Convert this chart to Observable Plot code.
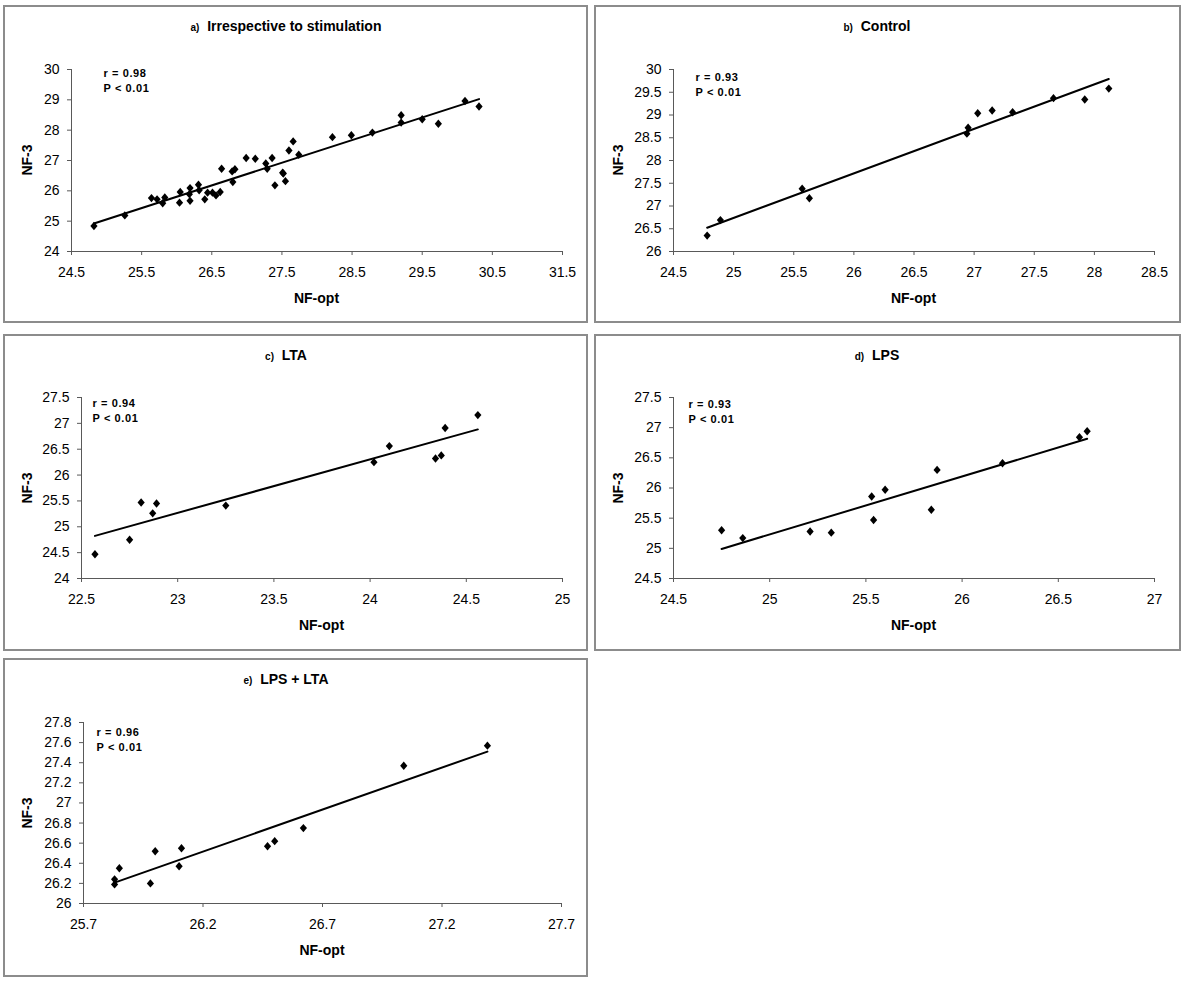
<!DOCTYPE html>
<html>
<head>
<meta charset="utf-8">
<script src="https://cdn.jsdelivr.net/npm/d3@7"></script>
<script src="https://cdn.jsdelivr.net/npm/@observablehq/plot@0.6"></script>
<style>
  html, body { margin: 0; padding: 0; background: #fff; }
  body { font-family: "Liberation Sans", Arial, sans-serif; color: #000; }
  #root { position: relative; width: 1200px; height: 1000px; }
  .box { position: absolute; box-sizing: border-box; border: 2px solid #8c8c8c; background: #fff; }
  .panel { position: absolute; }
  .panel svg { position: absolute; left: 0; top: 0; overflow: visible; }
  .title { position: absolute; transform: translate(-50%, -50%); white-space: nowrap; font-weight: bold; font-size: 14px; }
  .title .tag { font-size: 10px; }
  .xlab { position: absolute; transform: translate(-50%, -50%); font-weight: bold; font-size: 14px; white-space: nowrap; }
  .ylab { position: absolute; transform: translate(-50%, -50%) rotate(-90deg); font-weight: bold; font-size: 14px; white-space: nowrap; }
</style>
</head>
<body>
<div id="root"></div>
<script>
// ---------- data ----------
const panelTags = ["a)", "b)", "c)", "d)", "e)"];
const panelTitles = ["Irrespective to stimulation", "Control", "LTA", "LPS", "LPS + LTA"];
const statR = ["r = 0.98", "r = 0.93", "r = 0.94", "r = 0.93", "r = 0.96"];
const statP = "P < 0.01";
const xLabel = "NF-opt";
const yLabel = "NF-3";

const aX = [24.82,25.26,25.64,25.72,25.80,25.83,26.04,26.05,26.19,26.19,26.18,26.31,26.32,26.40,26.44,26.51,26.56,26.62,26.64,26.79,26.80,26.83,26.99,27.12,27.27,27.29,27.36,27.40,27.51,27.52,27.55,27.60,27.66,27.74,28.22,28.49,28.79,29.20,29.20,29.50,29.73,30.11,30.31];
const aY = [24.84,25.19,25.76,25.72,25.59,25.78,25.61,25.96,26.09,25.67,25.89,26.20,26.02,25.72,25.94,25.94,25.85,25.96,26.73,26.64,26.29,26.71,27.08,27.06,26.90,26.73,27.08,26.18,26.60,26.57,26.32,27.33,27.63,27.19,27.77,27.83,27.92,28.49,28.25,28.36,28.21,28.96,28.78];
const bX = [24.78,24.89,25.57,25.63,26.94,26.95,27.03,27.15,27.32,27.66,27.92,28.12];
const bY = [26.35,26.69,27.38,27.17,28.59,28.72,29.04,29.10,29.06,29.37,29.34,29.58];
const cX = [22.57,22.75,22.81,22.87,22.89,23.25,24.02,24.10,24.34,24.37,24.39,24.56];
const cY = [24.47,24.75,25.47,25.26,25.45,25.41,26.25,26.56,26.32,26.38,26.91,27.16];
const dX = [24.75,24.86,25.21,25.32,25.53,25.54,25.60,25.84,25.87,26.21,26.61,26.65];
const dY = [25.30,25.17,25.28,25.26,25.86,25.47,25.97,25.64,26.30,26.41,26.84,26.94];
const eX = [25.83,25.83,25.85,25.98,26.00,26.10,26.11,26.47,26.50,26.62,27.04,27.39];
const eY = [26.24,26.19,26.35,26.20,26.52,26.37,26.55,26.57,26.62,26.75,27.37,27.57];

const aXTicks = [24.5,25.5,26.5,27.5,28.5,29.5,30.5,31.5];
const aYTicks = [24,25,26,27,28,29,30];
const bXTicks = [24.5,25,25.5,26,26.5,27,27.5,28,28.5];
const bYTicks = [26,26.5,27,27.5,28,28.5,29,29.5,30];
const cXTicks = [22.5,23,23.5,24,24.5,25];
const cYTicks = [24,24.5,25,25.5,26,26.5,27,27.5];
const dXTicks = [24.5,25,25.5,26,26.5,27];
const dYTicks = [24.5,25,25.5,26,26.5,27,27.5];
const eXTicks = [25.7,26.2,26.7,27.2,27.7];
const eYTicks = [26,26.2,26.4,26.6,26.8,27,27.2,27.4,27.6,27.8];

// ---------- layout ----------
const layout = [
  {xs: aX, ys: aY, xt: aXTicks, yt: aYTicks, left: 3,   top: 5,   width: 585, height: 318, ml: 68, mr: 26, mt: 64, mb: 72, rdx: 32, rdy: 4},
  {xs: bX, ys: bY, xt: bXTicks, yt: bYTicks, left: 594, top: 5,   width: 587, height: 318, ml: 79, mr: 27, mt: 64, mb: 72, rdx: 22, rdy: 8},
  {xs: cX, ys: cY, xt: cXTicks, yt: cYTicks, left: 3,   top: 334, width: 585, height: 317, ml: 78, mr: 26, mt: 63, mb: 73, rdx: 11, rdy: 6},
  {xs: dX, ys: dY, xt: dXTicks, yt: dYTicks, left: 594, top: 334, width: 587, height: 317, ml: 79, mr: 27, mt: 63, mb: 73, rdx: 15, rdy: 7},
  {xs: eX, ys: eY, xt: eXTicks, yt: eYTicks, left: 3,   top: 658, width: 585, height: 319, ml: 80, mr: 27, mt: 64, mb: 74, rdx: 13, rdy: 10}
];

const diamond = {
  draw(ctx) {
    const w = 3.6, h = 4.2;
    ctx.moveTo(0, -h); ctx.lineTo(w, 0); ctx.lineTo(0, h); ctx.lineTo(-w, 0); ctx.closePath();
  }
};

const axisColor = "#595959";
const root = document.getElementById("root");

layout.forEach((L, i) => {
  const rows = L.xs.map((x, k) => ({x, y: L.ys[k]}));

  const box = document.createElement("div");
  box.className = "box";
  Object.assign(box.style, {left: L.left + "px", top: L.top + "px", width: L.width + "px", height: L.height + "px"});
  root.appendChild(box);

  const panel = document.createElement("div");
  panel.className = "panel";
  Object.assign(panel.style, {left: L.left + "px", top: L.top + "px", width: L.width + "px", height: L.height + "px"});

  const chart = Plot.plot({
    width: L.width,
    height: L.height,
    marginLeft: L.ml, marginRight: L.mr, marginTop: L.mt, marginBottom: L.mb,
    style: {fontFamily: '"Liberation Sans", Arial, sans-serif', fontSize: "14px", background: "transparent", color: "#000"},
    x: {domain: [L.xt[0], L.xt[L.xt.length - 1]], ticks: L.xt},
    y: {domain: [L.yt[0], L.yt[L.yt.length - 1]], ticks: L.yt},
    marks: [
      Plot.axisX({ticks: L.xt, tickSize: 4, tickPadding: 12, tickFormat: d => String(d), stroke: axisColor, fill: "#000", fontSize: 14, label: null}),
      Plot.axisY({ticks: L.yt, tickSize: 4, tickPadding: 8, tickFormat: d => String(d), stroke: axisColor, fill: "#000", fontSize: 14, label: null}),
      Plot.ruleY([L.yt[0]], {stroke: axisColor, strokeWidth: 1}),
      Plot.ruleX([L.xt[0]], {stroke: axisColor, strokeWidth: 1}),
      Plot.linearRegressionY(rows, {x: "x", y: "y", ci: 0, stroke: "#000", strokeWidth: 2}),
      Plot.dot(rows, {x: "x", y: "y", symbol: diamond, fill: "#000", stroke: "none"}),
      Plot.text([statR[i]], {frameAnchor: "top-left", dx: L.rdx, dy: L.rdy, text: d => d, textAnchor: "start", lineAnchor: "middle", fontWeight: "bold", fontSize: 11, fill: "#000"}),
      Plot.text([statP], {frameAnchor: "top-left", dx: L.rdx, dy: L.rdy + 15, text: d => d, textAnchor: "start", lineAnchor: "middle", fontWeight: "bold", fontSize: 11, fill: "#000"})
    ]
  });
  chart.querySelectorAll('g[font-weight="bold"] text').forEach(t => { t.style.letterSpacing = "0.6px"; });
  panel.appendChild(chart);

  const title = document.createElement("div");
  title.className = "title";
  title.innerHTML = `<span class="tag">${panelTags[i]}</span>&nbsp;&nbsp;${panelTitles[i]}`;
  Object.assign(title.style, {left: "283px", top: "21px"});
  panel.appendChild(title);

  const plotCx = L.ml + (L.width - L.ml - L.mr) / 2;
  const plotCy = L.mt + (L.height - L.mt - L.mb) / 2;

  const xl = document.createElement("div");
  xl.className = "xlab";
  xl.textContent = xLabel;
  Object.assign(xl.style, {left: plotCx + "px", top: (L.height - L.mb + 47) + "px"});
  panel.appendChild(xl);

  const yl = document.createElement("div");
  yl.className = "ylab";
  yl.textContent = yLabel;
  Object.assign(yl.style, {left: "24px", top: plotCy + "px"});
  panel.appendChild(yl);

  root.appendChild(panel);
});
</script>
</body>
</html>
